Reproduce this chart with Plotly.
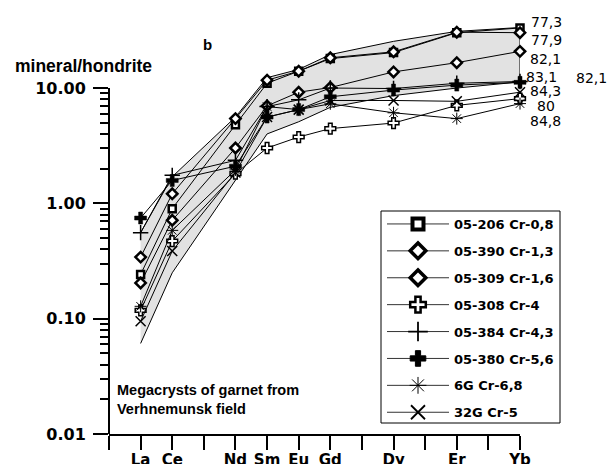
import math
import plotly.graph_objects as go

# ---------------- data ----------------
ree_all = ["La", "Ce", "Pr", "Nd", "Sm", "Eu", "Gd", "Tb", "Dy", "Ho", "Er", "Tm", "Yb"]
tick_labels = ["", "La", "Ce", "", "Nd", "Sm", "Eu", "Gd", "", "Dy", "", "Er", "", "Yb"]
elements = ["La", "Ce", "Nd", "Sm", "Eu", "Gd", "Dy", "Er", "Yb"]

s_05_206 = [0.242, 0.90, 4.80, 11.0, 14.0, 18.0, 20.3, 30.2, 33.2]
s_05_390 = [0.342, 1.21, 5.43, 11.7, 14.0, 18.3, 20.6, 30.5, 30.2]
s_05_309 = [0.204, 0.713, 3.02, 7.0, 9.2, 10.1, 13.8, 16.6, 20.8]
s_05_308 = [0.118, 0.471, 1.81, 3.02, 3.76, 4.45, 4.97, 7.07, 8.1]
s_05_384 = [0.557, 1.75, 2.36, 6.9, 7.9, 10.0, 9.9, 11.0, 11.4]
s_05_380 = [0.746, 1.58, 2.10, 5.6, 6.5, 8.4, 9.6, 10.6, 11.2]
s_6g = [0.128, 0.583, 1.95, 6.9, 6.5, 7.3, 6.1, 5.43, 7.33]
s_32g = [0.095, 0.386, 1.85, 5.6, 6.5, 7.8, 7.8, 7.67, 9.2]

env_upper = [0.557, 1.70, 5.6, 12.3, 14.5, 19.5, 25.4, 31.0, 33.5]
env_lower = [0.061, 0.25, 1.6, 4.0, 5.1, 6.8, 8.6, 10.0, 11.3]

series_names = ["05-206 Cr-0,8", "05-390 Cr-1,3", "05-309 Cr-1,6", "05-308 Cr-4",
                "05-384 Cr-4,3", "05-380 Cr-5,6", "6G Cr-6,8", "32G Cr-5"]
series_values = [s_05_206, s_05_390, s_05_309, s_05_308, s_05_384, s_05_380, s_6g, s_32g]
end_labels = ["77,3", "77,9", "82,1", "80", "83,1", "82,1", "84,8", "84,3"]

y_tickvals = [0.01, 0.1, 1, 10]
y_ticktext = ["0.01", "0.10", "1.00", "10.00"]

# ---------------- styles ----------------
marker_styles = [
    dict(symbol="square", size=7, color="white", line=dict(color="black", width=2.5)),
    dict(symbol="diamond", size=8, color="white", line=dict(color="black", width=2.5)),
    dict(symbol="diamond", size=8, color="white", line=dict(color="black", width=2.5)),
    dict(symbol="cross", size=9, color="white", line=dict(color="black", width=1.5)),
    dict(symbol="cross-thin", size=11, color="black", line=dict(color="black", width=1.5)),
    dict(symbol="cross", size=10, color="black", line=dict(color="black", width=0.5)),
    dict(symbol="asterisk", size=10, color="black", line=dict(color="black", width=1)),
    dict(symbol="x-thin", size=10, color="black", line=dict(color="black", width=1.5)),
]
legend_marker_styles = [
    dict(symbol="square", size=11, color="white", line=dict(color="black", width=4)),
    dict(symbol="diamond", size=12, color="white", line=dict(color="black", width=3.5)),
    dict(symbol="diamond", size=12, color="white", line=dict(color="black", width=3.5)),
    dict(symbol="cross", size=13, color="white", line=dict(color="black", width=2.5)),
    dict(symbol="cross-thin", size=14, color="black", line=dict(color="black", width=1.8)),
    dict(symbol="cross", size=13, color="black", line=dict(color="black", width=1)),
    dict(symbol="asterisk", size=14, color="black", line=dict(color="black", width=1)),
    dict(symbol="x-thin", size=14, color="black", line=dict(color="black", width=1.8)),
]
label_shift = [(9, 6), (9, -7), (8, -7.5), (15, -7), (4, 4), (54, 4), (8, -17), (8, 1)]

x_el = [ree_all.index(e) + 1 for e in elements]

fig = go.Figure()

# envelope field
fig.add_trace(go.Scatter(
    x=x_el + x_el[::-1], y=env_upper + env_lower[::-1],
    mode="lines", fill="toself", fillcolor="#e2e2e2",
    line=dict(color="black", width=1), showlegend=False, hoverinfo="skip"))

for name, vals, ms in zip(series_names, series_values, marker_styles):
    fig.add_trace(go.Scatter(
        x=x_el, y=vals, name=name, mode="lines+markers", showlegend=False,
        line=dict(color="black", width=1), marker=ms, cliponaxis=False))

# legend entries (larger symbols, as in the reference legend)
for i, (name, ms) in enumerate(zip(series_names, legend_marker_styles)):
    fig.add_trace(go.Scatter(
        x=[None], y=[None], name=name, mode="lines+markers",
        legendgroup="g%d" % i, line=dict(color="#333333", width=1), marker=ms))

annotations = []
for lab, vals, (dx, dy) in zip(end_labels, series_values, label_shift):
    annotations.append(dict(
        x=x_el[-1], y=math.log10(vals[-1]), xref="x", yref="y", text=lab,
        showarrow=False, xanchor="left", yanchor="middle", xshift=dx, yshift=dy,
        font=dict(family="DejaVu Sans", size=14, color="black")))

annotations += [
    dict(x=(207 - 109) / 411, y=(434 - 44) / 414, xref="paper", yref="paper",
         text="<b>b</b>", showarrow=False, xanchor="center", yanchor="middle",
         font=dict(family="Liberation Sans, Arial", size=15, color="black")),
    dict(x=(13 - 109) / 411, y=(434 - 66) / 414, xref="paper", yref="paper",
         text="<b>mineral/hondrite</b>", showarrow=False, xanchor="left", yanchor="middle",
         font=dict(family="Liberation Sans, Arial", size=17.5, color="black")),
    dict(x=0, y=(434 - 399) / 414, xref="paper", yref="paper",
         text="<b>Megacrysts of garnet from<br>Verhnemunsk field</b>",
         showarrow=False, xanchor="left", yanchor="middle", align="left", xshift=6,
         font=dict(family="Liberation Sans, Arial", size=14.5, color="black")),
]

minor_vals = [m * 10 ** k for k in (-2, -1, 0) for m in range(2, 10)]

fig.update_layout(
    width=612, height=464,
    margin=dict(l=109, r=92, t=20, b=30),
    paper_bgcolor="white", plot_bgcolor="white",
    showlegend=True,
    legend=dict(
        x=(382 - 109) / 411, y=(434 - 209) / 414, xanchor="left", yanchor="top",
        bgcolor="rgba(0,0,0,0)", borderwidth=0,
        font=dict(family="DejaVu Sans", size=13, color="black", weight="bold"),
        itemsizing="trace", itemwidth=62, traceorder="grouped",
        tracegroupgap=7),
    xaxis=dict(
        range=[0, 13], tickmode="array", tickvals=list(range(0, 14)),
        ticktext=tick_labels,
        ticks="outside", ticklen=14, tickwidth=1.5, tickcolor="black", ticklabelstandoff=-3,
        showline=True, linewidth=2, linecolor="black", showgrid=False, zeroline=False,
        automargin=False,
        tickfont=dict(family="DejaVu Sans", size=15, color="black", weight="bold"),
        fixedrange=True),
    yaxis=dict(
        type="log", range=[-2, 1.59], tickmode="array", tickvals=y_tickvals,
        ticktext=y_ticktext,
        ticks="outside", ticklen=15, tickwidth=1.5, tickcolor="black", ticklabelstandoff=4,
        minor=dict(tickmode="array", tickvals=minor_vals, ticks="outside", ticklen=8,
                   tickwidth=1.5, tickcolor="black", showgrid=False),
        showline=False, showgrid=False, zeroline=False, automargin=False,
        tickfont=dict(family="DejaVu Sans", size=16, color="black", weight="bold"),
        fixedrange=True),
    annotations=annotations,
    shapes=[
        dict(type="line", xref="paper", yref="paper", x0=0, x1=0, y0=0,
             y1=3 / 3.59, line=dict(color="black", width=2)),
        # legend frame
        dict(type="rect", xref="paper", yref="paper", layer="above",
             x0=(381 - 109) / 411, x1=(560 - 109) / 411,
             y0=(434 - 423) / 414, y1=(434 - 211) / 414,
             fillcolor="white", line=dict(color="black", width=1)),
    ],
)

fig.write_html("out.html", config={"displayModeBar": False},
               post_script="document.body.style.margin='0px';")
